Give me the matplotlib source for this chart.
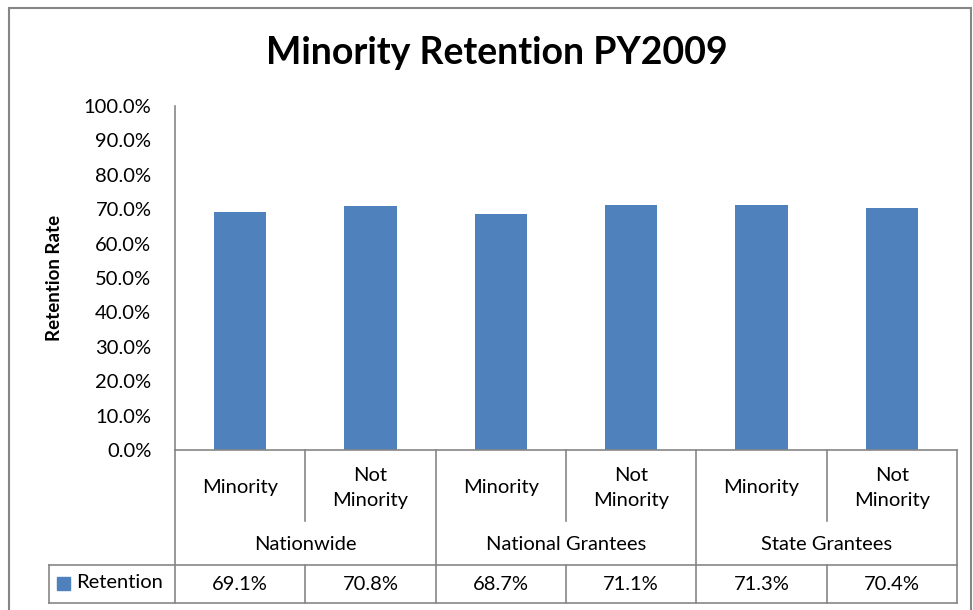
import matplotlib
matplotlib.use('Agg')
import matplotlib.pyplot as plt
from matplotlib.patches import Rectangle
from matplotlib.ticker import PercentFormatter
from matplotlib.transforms import blended_transform_factory

# data
sub_labels = ['Minority', 'Not\nMinority', 'Minority', 'Not\nMinority', 'Minority', 'Not\nMinority']
groups = ['Nationwide', 'National Grantees', 'State Grantees']
retention = [69.1, 70.8, 68.7, 71.1, 71.3, 70.4]
series_name = 'Retention'

W, H = 973, 610
BLUE = '#4F81BD'
GRAY = '#868686'
plt.rcParams['font.family'] = ['Lato', 'DejaVu Sans']

fig = plt.figure(figsize=(W / 100, H / 100), dpi=100)

def fx(px):
    return px / W

def fy(py):
    return 1 - py / H

# plot area in pixel positions of the reference
x0, x1, y_top, y_zero = 175, 957, 106, 450
ax = fig.add_axes([fx(x0), fy(y_zero), fx(x1) - fx(x0), fy(y_top) - fy(y_zero)])

xs = list(range(len(retention)))
ax.bar(xs, retention, width=0.4, color=BLUE, zorder=2)
ax.set_xlim(-0.5, len(retention) - 0.5)
ax.set_ylim(0, 100)
ax.set_yticks(range(0, 101, 10))
ax.yaxis.set_major_formatter(PercentFormatter(decimals=1))
ax.tick_params(axis='y', length=0, labelsize=14.5, pad=17)
ax.set_xticks([])
for s in ['top', 'right', 'bottom']:
    ax.spines[s].set_visible(False)
ax.spines['left'].set_color(GRAY)
ax.spines['left'].set_linewidth(1.2)
ax.set_ylabel('Retention Rate', fontsize=13.5, fontweight='bold')
ax.yaxis.set_label_coords(-(x0 - 63) / (x1 - x0), 0.5)

fig.text(fx(497), fy(53), 'Minority Retention PY2009', ha='center', va='center',
         fontsize=27, fontweight='bold')

# category table below the axis
tr = blended_transform_factory(ax.transData, fig.transFigure)
row1_bot, row2_bot, row3_bot = 521, 565, 603
lw = 1.2

def vline(x, ya, yb, transform=tr):
    fig.add_artist(plt.Line2D([x, x], [fy(ya), fy(yb)], transform=transform,
                              color=GRAY, lw=lw))

def hline(xa, xb, y):
    fig.add_artist(plt.Line2D([xa, xb], [fy(y), fy(y)], transform=fig.transFigure,
                              color=GRAY, lw=lw))

hline(fx(x0), fx(x1), y_zero)
n = len(retention)
for i in range(n + 1):
    b = i - 0.5
    if i % 2 == 0:
        vline(b, y_zero, row2_bot)
    else:
        vline(b, y_zero, row1_bot)
    vline(b, row2_bot, row3_bot)

hline(fx(49), fx(x1), row2_bot)
hline(fx(49), fx(x1), row3_bot)
vline(fx(49), row2_bot, row3_bot, transform=fig.transFigure)

fs = 14.5
for i, lab in enumerate(sub_labels):
    fig.text(i, fy(488), lab, transform=tr, ha='center', va='center',
             fontsize=fs, linespacing=1.6)
for g, name in enumerate(groups):
    fig.text(2 * g + 0.5, fy(545), name, transform=tr, ha='center', va='center',
             fontsize=fs)
for i, v in enumerate(retention):
    fig.text(i, fy(584), f'{v:.1f}%', transform=tr, ha='center', va='center',
             fontsize=fs)

fig.add_artist(Rectangle((fx(57), fy(590)), fx(13), 13 / H, transform=fig.transFigure,
                         color=BLUE))
fig.text(fx(76), fy(583), series_name, ha='left', va='center', fontsize=fs)

# chart border
fig.add_artist(Rectangle((fx(9), fy(620)), fx(962), 612 / H, transform=fig.transFigure,
                         fill=False, edgecolor=GRAY, lw=1.5))

fig.savefig('out.png', dpi=100)
